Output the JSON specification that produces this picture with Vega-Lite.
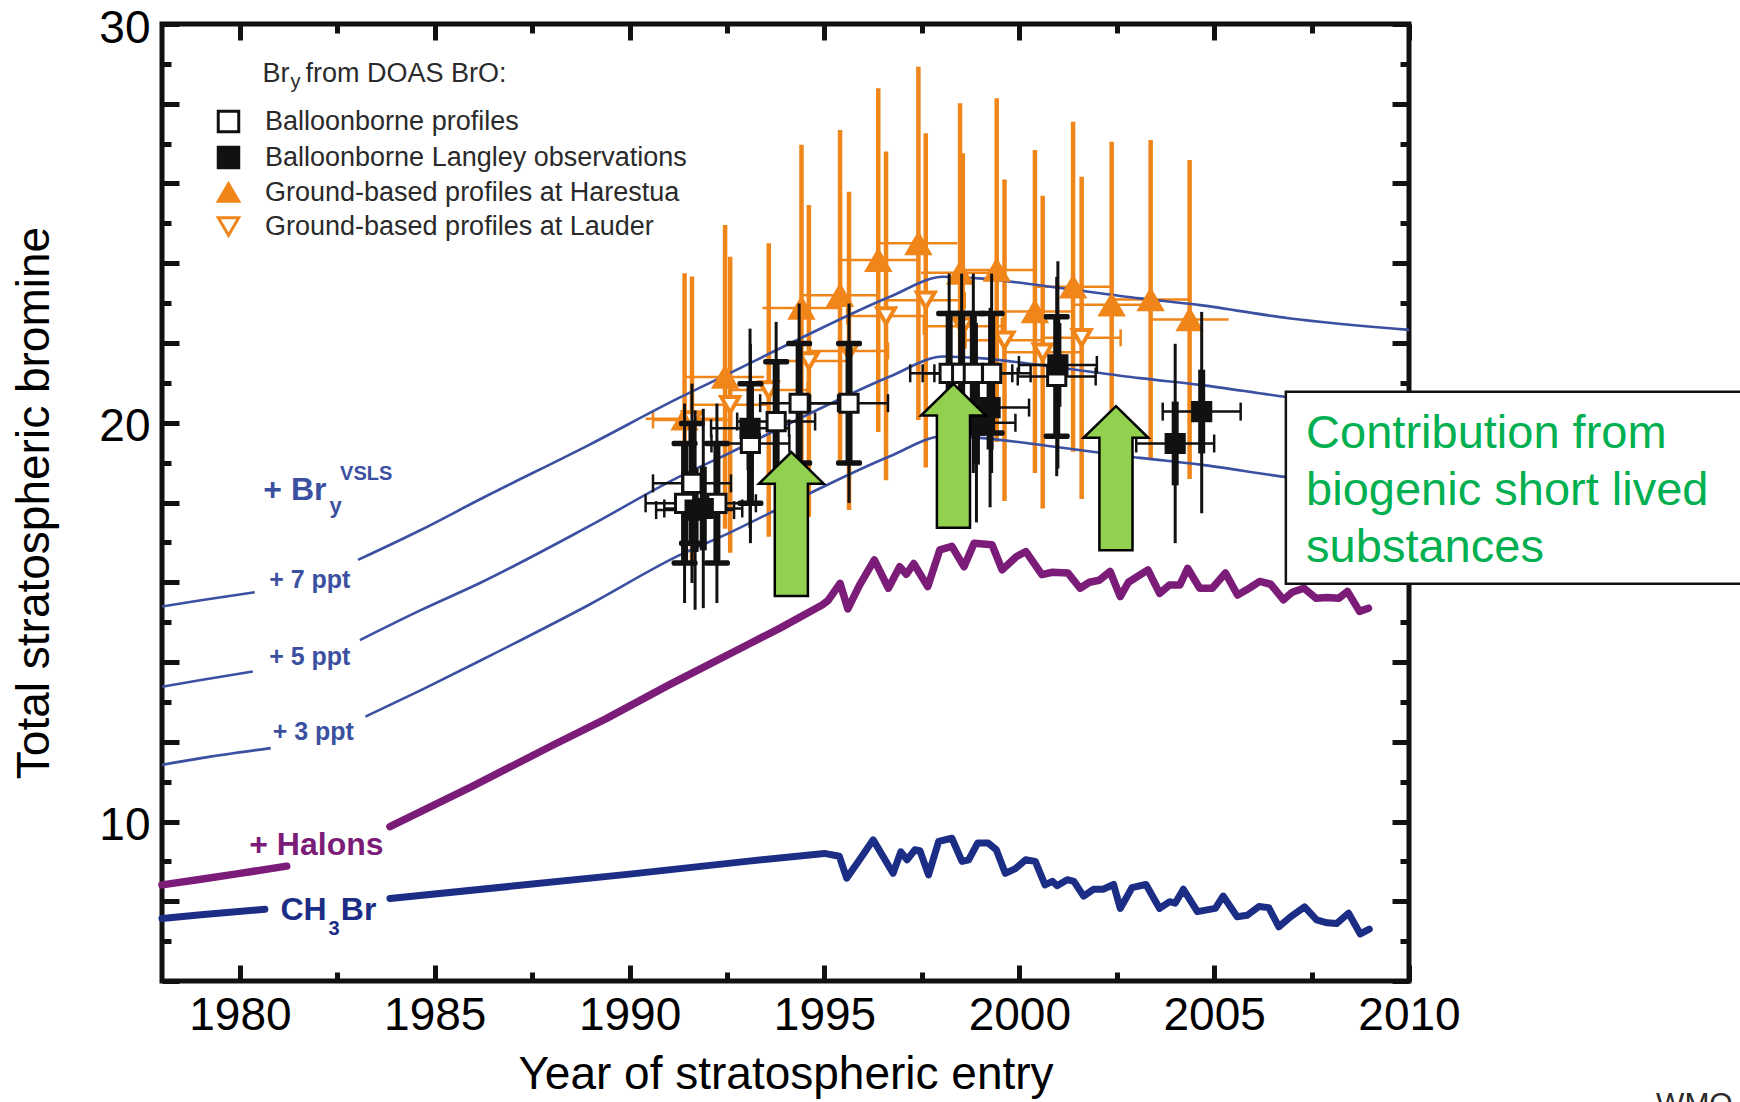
{
"$schema": "https://vega.github.io/schema/vega-lite/v6.json",
"width": 1247, "height": 957,
"autosize": {"type": "none"},
"padding": {"left": 162, "top": 24, "right": 331, "bottom": 121},
"background": "#ffffff",
"config": {
  "view": {"stroke": "#111111", "strokeWidth": 5},
  "axis": {"domain": false, "grid": false, "labelFont": "Liberation Sans", "titleFont": "Liberation Sans", "labelColor": "#000000", "titleColor": "#000000", "tickColor": "#111111", "tickWidth": 5, "titleFontWeight": "normal", "labelFontSize": 46, "titleFontSize": 46, "labelFlush": false, "labelOverlap": false},
  "legend": {"labelFont": "Liberation Sans", "labelFontSize": 27, "labelColor": "#2a2a2a", "symbolSize": 420, "symbolStrokeWidth": 3, "rowPadding": 3, "labelOffset": 23, "padding": 0, "labelLimit": 800}
},
"resolve": {"axis": {"x": "independent", "y": "independent"}},
"datasets": {
  "lines": [
    {"line": "+7", "seg": "a", "year": 1978, "value": 15.39},
    {"line": "+7", "seg": "a", "year": 1979, "value": 15.55},
    {"line": "+7", "seg": "a", "year": 1980.38, "value": 15.75},
    {"line": "+7", "seg": "b", "year": 1983.03, "value": 16.56},
    {"line": "+7", "seg": "b", "year": 1984.64, "value": 17.31},
    {"line": "+7", "seg": "b", "year": 1986.2, "value": 18.1},
    {"line": "+7", "seg": "b", "year": 1988.95, "value": 19.44},
    {"line": "+7", "seg": "b", "year": 1991.24, "value": 20.61},
    {"line": "+7", "seg": "b", "year": 1992.56, "value": 21.24},
    {"line": "+7", "seg": "b", "year": 1994.39, "value": 22.12},
    {"line": "+7", "seg": "b", "year": 1996.68, "value": 23.16},
    {"line": "+7", "seg": "b", "year": 1998.05, "value": 23.66},
    {"line": "+7", "seg": "b", "year": 1998.97, "value": 23.62},
    {"line": "+7", "seg": "b", "year": 2000.8, "value": 23.41},
    {"line": "+7", "seg": "b", "year": 2003.1, "value": 23.12},
    {"line": "+7", "seg": "b", "year": 2004.64, "value": 22.95},
    {"line": "+7", "seg": "b", "year": 2006.91, "value": 22.62},
    {"line": "+7", "seg": "b", "year": 2010, "value": 22.33},
    {"line": "+5", "seg": "a", "year": 1978, "value": 13.38},
    {"line": "+5", "seg": "a", "year": 1979, "value": 13.55},
    {"line": "+5", "seg": "a", "year": 1980.33, "value": 13.76},
    {"line": "+5", "seg": "b", "year": 1983.08, "value": 14.55},
    {"line": "+5", "seg": "b", "year": 1984.64, "value": 15.3},
    {"line": "+5", "seg": "b", "year": 1986.2, "value": 16.0},
    {"line": "+5", "seg": "b", "year": 1988.95, "value": 17.4},
    {"line": "+5", "seg": "b", "year": 1991.24, "value": 18.63},
    {"line": "+5", "seg": "b", "year": 1992.56, "value": 19.24},
    {"line": "+5", "seg": "b", "year": 1994.39, "value": 20.12},
    {"line": "+5", "seg": "b", "year": 1996.68, "value": 21.16},
    {"line": "+5", "seg": "b", "year": 1998.05, "value": 21.66},
    {"line": "+5", "seg": "b", "year": 1998.97, "value": 21.62},
    {"line": "+5", "seg": "b", "year": 2000.8, "value": 21.41},
    {"line": "+5", "seg": "b", "year": 2003.1, "value": 21.12},
    {"line": "+5", "seg": "b", "year": 2004.64, "value": 20.95},
    {"line": "+5", "seg": "b", "year": 2006.91, "value": 20.64},
    {"line": "+5", "seg": "b", "year": 2010, "value": 20.33},
    {"line": "+3", "seg": "a", "year": 1978, "value": 11.42},
    {"line": "+3", "seg": "a", "year": 1979, "value": 11.59},
    {"line": "+3", "seg": "a", "year": 1980.79, "value": 11.84},
    {"line": "+3", "seg": "b", "year": 1983.22, "value": 12.63},
    {"line": "+3", "seg": "b", "year": 1984.7, "value": 13.32},
    {"line": "+3", "seg": "b", "year": 1986.2, "value": 14.05},
    {"line": "+3", "seg": "b", "year": 1988.95, "value": 15.43},
    {"line": "+3", "seg": "b", "year": 1991.24, "value": 16.66},
    {"line": "+3", "seg": "b", "year": 1992.56, "value": 17.24},
    {"line": "+3", "seg": "b", "year": 1994.39, "value": 18.12},
    {"line": "+3", "seg": "b", "year": 1996.68, "value": 19.16},
    {"line": "+3", "seg": "b", "year": 1998.05, "value": 19.66},
    {"line": "+3", "seg": "b", "year": 1998.97, "value": 19.62},
    {"line": "+3", "seg": "b", "year": 2000.8, "value": 19.41},
    {"line": "+3", "seg": "b", "year": 2003.1, "value": 19.12},
    {"line": "+3", "seg": "b", "year": 2004.64, "value": 18.95},
    {"line": "+3", "seg": "b", "year": 2006.91, "value": 18.63},
    {"line": "+3", "seg": "b", "year": 2010, "value": 18.33},
    {"line": "Halons", "seg": "a", "year": 1978, "value": 8.41},
    {"line": "Halons", "seg": "a", "year": 1979, "value": 8.55},
    {"line": "Halons", "seg": "a", "year": 1980, "value": 8.7},
    {"line": "Halons", "seg": "a", "year": 1981.2, "value": 8.88},
    {"line": "Halons", "seg": "b", "year": 1983.85, "value": 9.87},
    {"line": "Halons", "seg": "b", "year": 1986, "value": 10.9},
    {"line": "Halons", "seg": "b", "year": 1988, "value": 11.9},
    {"line": "Halons", "seg": "b", "year": 1989.4, "value": 12.58},
    {"line": "Halons", "seg": "b", "year": 1991, "value": 13.42},
    {"line": "Halons", "seg": "b", "year": 1993, "value": 14.42},
    {"line": "Halons", "seg": "b", "year": 1993.86, "value": 14.85},
    {"line": "Halons", "seg": "b", "year": 1994.94, "value": 15.43},
    {"line": "Halons", "seg": "b", "year": 1995.1, "value": 15.55},
    {"line": "Halons", "seg": "b", "year": 1995.4, "value": 15.97},
    {"line": "Halons", "seg": "b", "year": 1995.6, "value": 15.33},
    {"line": "Halons", "seg": "b", "year": 1995.9, "value": 15.93},
    {"line": "Halons", "seg": "b", "year": 1996.28, "value": 16.56},
    {"line": "Halons", "seg": "b", "year": 1996.64, "value": 15.85},
    {"line": "Halons", "seg": "b", "year": 1996.93, "value": 16.39},
    {"line": "Halons", "seg": "b", "year": 1997.1, "value": 16.2},
    {"line": "Halons", "seg": "b", "year": 1997.29, "value": 16.47},
    {"line": "Halons", "seg": "b", "year": 1997.65, "value": 15.89},
    {"line": "Halons", "seg": "b", "year": 1997.96, "value": 16.81},
    {"line": "Halons", "seg": "b", "year": 1998.27, "value": 16.9},
    {"line": "Halons", "seg": "b", "year": 1998.58, "value": 16.39},
    {"line": "Halons", "seg": "b", "year": 1998.84, "value": 16.98},
    {"line": "Halons", "seg": "b", "year": 1999.3, "value": 16.94},
    {"line": "Halons", "seg": "b", "year": 1999.56, "value": 16.31},
    {"line": "Halons", "seg": "b", "year": 1999.92, "value": 16.64},
    {"line": "Halons", "seg": "b", "year": 2000.17, "value": 16.77},
    {"line": "Halons", "seg": "b", "year": 2000.58, "value": 16.19},
    {"line": "Halons", "seg": "b", "year": 2000.85, "value": 16.25},
    {"line": "Halons", "seg": "b", "year": 2001.25, "value": 16.23},
    {"line": "Halons", "seg": "b", "year": 2001.56, "value": 15.85},
    {"line": "Halons", "seg": "b", "year": 2001.8, "value": 16.0},
    {"line": "Halons", "seg": "b", "year": 2002.05, "value": 16.05},
    {"line": "Halons", "seg": "b", "year": 2002.33, "value": 16.27},
    {"line": "Halons", "seg": "b", "year": 2002.59, "value": 15.64},
    {"line": "Halons", "seg": "b", "year": 2002.8, "value": 16.0},
    {"line": "Halons", "seg": "b", "year": 2003.3, "value": 16.31},
    {"line": "Halons", "seg": "b", "year": 2003.6, "value": 15.72},
    {"line": "Halons", "seg": "b", "year": 2003.85, "value": 15.93},
    {"line": "Halons", "seg": "b", "year": 2004.12, "value": 15.93},
    {"line": "Halons", "seg": "b", "year": 2004.32, "value": 16.35},
    {"line": "Halons", "seg": "b", "year": 2004.63, "value": 15.85},
    {"line": "Halons", "seg": "b", "year": 2004.95, "value": 15.85},
    {"line": "Halons", "seg": "b", "year": 2005.29, "value": 16.23},
    {"line": "Halons", "seg": "b", "year": 2005.6, "value": 15.68},
    {"line": "Halons", "seg": "b", "year": 2005.9, "value": 15.85},
    {"line": "Halons", "seg": "b", "year": 2006.17, "value": 16.02},
    {"line": "Halons", "seg": "b", "year": 2006.45, "value": 15.95},
    {"line": "Halons", "seg": "b", "year": 2006.78, "value": 15.56},
    {"line": "Halons", "seg": "b", "year": 2007.0, "value": 15.75},
    {"line": "Halons", "seg": "b", "year": 2007.3, "value": 15.85},
    {"line": "Halons", "seg": "b", "year": 2007.61, "value": 15.6},
    {"line": "Halons", "seg": "b", "year": 2007.9, "value": 15.62},
    {"line": "Halons", "seg": "b", "year": 2008.2, "value": 15.6},
    {"line": "Halons", "seg": "b", "year": 2008.42, "value": 15.77},
    {"line": "Halons", "seg": "b", "year": 2008.73, "value": 15.27},
    {"line": "Halons", "seg": "b", "year": 2008.96, "value": 15.35},
    {"line": "CH3Br", "seg": "a", "year": 1978, "value": 7.57},
    {"line": "CH3Br", "seg": "a", "year": 1979, "value": 7.66},
    {"line": "CH3Br", "seg": "a", "year": 1980.64, "value": 7.8},
    {"line": "CH3Br", "seg": "b", "year": 1983.85, "value": 8.07},
    {"line": "CH3Br", "seg": "b", "year": 1987, "value": 8.38},
    {"line": "CH3Br", "seg": "b", "year": 1990, "value": 8.68},
    {"line": "CH3Br", "seg": "b", "year": 1993, "value": 9.0},
    {"line": "CH3Br", "seg": "b", "year": 1995.0, "value": 9.2},
    {"line": "CH3Br", "seg": "b", "year": 1995.38, "value": 9.13},
    {"line": "CH3Br", "seg": "b", "year": 1995.57, "value": 8.58},
    {"line": "CH3Br", "seg": "b", "year": 1995.9, "value": 9.04},
    {"line": "CH3Br", "seg": "b", "year": 1996.25, "value": 9.54},
    {"line": "CH3Br", "seg": "b", "year": 1996.76, "value": 8.7},
    {"line": "CH3Br", "seg": "b", "year": 1996.96, "value": 9.24},
    {"line": "CH3Br", "seg": "b", "year": 1997.12, "value": 9.04},
    {"line": "CH3Br", "seg": "b", "year": 1997.32, "value": 9.29},
    {"line": "CH3Br", "seg": "b", "year": 1997.45, "value": 9.27},
    {"line": "CH3Br", "seg": "b", "year": 1997.67, "value": 8.66},
    {"line": "CH3Br", "seg": "b", "year": 1997.93, "value": 9.5},
    {"line": "CH3Br", "seg": "b", "year": 1998.27, "value": 9.58},
    {"line": "CH3Br", "seg": "b", "year": 1998.53, "value": 9.0},
    {"line": "CH3Br", "seg": "b", "year": 1998.7, "value": 9.04},
    {"line": "CH3Br", "seg": "b", "year": 1998.93, "value": 9.46},
    {"line": "CH3Br", "seg": "b", "year": 1999.2, "value": 9.46},
    {"line": "CH3Br", "seg": "b", "year": 1999.41, "value": 9.29},
    {"line": "CH3Br", "seg": "b", "year": 1999.64, "value": 8.7},
    {"line": "CH3Br", "seg": "b", "year": 1999.9, "value": 8.82},
    {"line": "CH3Br", "seg": "b", "year": 2000.16, "value": 9.04},
    {"line": "CH3Br", "seg": "b", "year": 2000.41, "value": 9.0},
    {"line": "CH3Br", "seg": "b", "year": 2000.66, "value": 8.41},
    {"line": "CH3Br", "seg": "b", "year": 2000.85, "value": 8.5},
    {"line": "CH3Br", "seg": "b", "year": 2000.97, "value": 8.39},
    {"line": "CH3Br", "seg": "b", "year": 2001.23, "value": 8.54},
    {"line": "CH3Br", "seg": "b", "year": 2001.4, "value": 8.5},
    {"line": "CH3Br", "seg": "b", "year": 2001.65, "value": 8.13},
    {"line": "CH3Br", "seg": "b", "year": 2001.9, "value": 8.3},
    {"line": "CH3Br", "seg": "b", "year": 2002.15, "value": 8.3},
    {"line": "CH3Br", "seg": "b", "year": 2002.42, "value": 8.42},
    {"line": "CH3Br", "seg": "b", "year": 2002.59, "value": 7.82},
    {"line": "CH3Br", "seg": "b", "year": 2002.89, "value": 8.34},
    {"line": "CH3Br", "seg": "b", "year": 2003.25, "value": 8.42},
    {"line": "CH3Br", "seg": "b", "year": 2003.6, "value": 7.82},
    {"line": "CH3Br", "seg": "b", "year": 2003.86, "value": 7.99},
    {"line": "CH3Br", "seg": "b", "year": 2004.0, "value": 7.95},
    {"line": "CH3Br", "seg": "b", "year": 2004.21, "value": 8.3},
    {"line": "CH3Br", "seg": "b", "year": 2004.57, "value": 7.74},
    {"line": "CH3Br", "seg": "b", "year": 2005.03, "value": 7.82},
    {"line": "CH3Br", "seg": "b", "year": 2005.23, "value": 8.13},
    {"line": "CH3Br", "seg": "b", "year": 2005.59, "value": 7.61},
    {"line": "CH3Br", "seg": "b", "year": 2005.85, "value": 7.65},
    {"line": "CH3Br", "seg": "b", "year": 2006.15, "value": 7.87},
    {"line": "CH3Br", "seg": "b", "year": 2006.4, "value": 7.84},
    {"line": "CH3Br", "seg": "b", "year": 2006.66, "value": 7.36},
    {"line": "CH3Br", "seg": "b", "year": 2006.96, "value": 7.61},
    {"line": "CH3Br", "seg": "b", "year": 2007.32, "value": 7.86},
    {"line": "CH3Br", "seg": "b", "year": 2007.63, "value": 7.53},
    {"line": "CH3Br", "seg": "b", "year": 2007.9, "value": 7.46},
    {"line": "CH3Br", "seg": "b", "year": 2008.14, "value": 7.44},
    {"line": "CH3Br", "seg": "b", "year": 2008.45, "value": 7.7},
    {"line": "CH3Br", "seg": "b", "year": 2008.75, "value": 7.18},
    {"line": "CH3Br", "seg": "b", "year": 2008.98, "value": 7.3}
  ],
  "obs": [
    {"series": "Ground-based profiles at Harestua", "year": 1991.41, "value": 20.10, "lo1": 16.45, "hi1": 23.75, "xlo": 1990.41, "xhi": 1992.41},
    {"series": "Ground-based profiles at Harestua", "year": 1992.45, "value": 21.15, "lo1": 17.34, "hi1": 24.96, "xlo": 1991.45, "xhi": 1993.45},
    {"series": "Ground-based profiles at Harestua", "year": 1994.41, "value": 22.88, "lo1": 18.79, "hi1": 26.97, "xlo": 1993.41, "xhi": 1995.41},
    {"series": "Ground-based profiles at Harestua", "year": 1995.40, "value": 23.20, "lo1": 19.06, "hi1": 27.34, "xlo": 1994.40, "xhi": 1996.40},
    {"series": "Ground-based profiles at Harestua", "year": 1996.38, "value": 24.08, "lo1": 19.77, "hi1": 28.39, "xlo": 1995.38, "xhi": 1997.38},
    {"series": "Ground-based profiles at Harestua", "year": 1997.41, "value": 24.50, "lo1": 20.07, "hi1": 28.93, "xlo": 1996.41, "xhi": 1998.41},
    {"series": "Ground-based profiles at Harestua", "year": 1998.48, "value": 23.76, "lo1": 19.51, "hi1": 28.01, "xlo": 1997.48, "xhi": 1999.48},
    {"series": "Ground-based profiles at Harestua", "year": 1999.42, "value": 23.83, "lo1": 19.52, "hi1": 28.14, "xlo": 1998.42, "xhi": 2000.42},
    {"series": "Ground-based profiles at Harestua", "year": 2000.40, "value": 22.79, "lo1": 18.74, "hi1": 26.84, "xlo": 1999.40, "xhi": 2001.40},
    {"series": "Ground-based profiles at Harestua", "year": 2001.38, "value": 23.41, "lo1": 19.27, "hi1": 27.55, "xlo": 2000.38, "xhi": 2002.38},
    {"series": "Ground-based profiles at Harestua", "year": 2002.37, "value": 22.96, "lo1": 18.87, "hi1": 27.05, "xlo": 2001.37, "xhi": 2003.37},
    {"series": "Ground-based profiles at Harestua", "year": 2003.37, "value": 23.09, "lo1": 19.09, "hi1": 27.09, "xlo": 2002.37, "xhi": 2004.37},
    {"series": "Ground-based profiles at Harestua", "year": 2004.37, "value": 22.59, "lo1": 18.59, "hi1": 26.59, "xlo": 2003.37, "xhi": 2005.37},
    {"series": "Ground-based profiles at Lauder", "year": 1991.60, "value": 20.07, "lo1": 16.47, "hi1": 23.67, "xlo": 1990.60, "xhi": 1992.60},
    {"series": "Ground-based profiles at Lauder", "year": 1992.58, "value": 20.45, "lo1": 16.74, "hi1": 24.16, "xlo": 1991.58, "xhi": 1993.58},
    {"series": "Ground-based profiles at Lauder", "year": 1993.57, "value": 20.82, "lo1": 17.14, "hi1": 24.50, "xlo": 1992.57, "xhi": 1994.57},
    {"series": "Ground-based profiles at Lauder", "year": 1994.60, "value": 21.55, "lo1": 17.64, "hi1": 25.46, "xlo": 1993.60, "xhi": 1995.60},
    {"series": "Ground-based profiles at Lauder", "year": 1995.63, "value": 21.80, "lo1": 17.81, "hi1": 25.79, "xlo": 1994.63, "xhi": 1996.63},
    {"series": "Ground-based profiles at Lauder", "year": 1996.58, "value": 22.68, "lo1": 18.56, "hi1": 26.80, "xlo": 1995.58, "xhi": 1997.58},
    {"series": "Ground-based profiles at Lauder", "year": 1997.60, "value": 23.07, "lo1": 18.88, "hi1": 27.26, "xlo": 1996.60, "xhi": 1998.60},
    {"series": "Ground-based profiles at Lauder", "year": 1998.55, "value": 22.42, "lo1": 18.08, "hi1": 26.76, "xlo": 1997.55, "xhi": 1999.55},
    {"series": "Ground-based profiles at Lauder", "year": 1999.62, "value": 22.07, "lo1": 18.04, "hi1": 26.10, "xlo": 1998.62, "xhi": 2000.62},
    {"series": "Ground-based profiles at Lauder", "year": 2000.60, "value": 21.77, "lo1": 17.85, "hi1": 25.69, "xlo": 1999.60, "xhi": 2001.60},
    {"series": "Ground-based profiles at Lauder", "year": 2001.60, "value": 22.13, "lo1": 18.09, "hi1": 26.17, "xlo": 2000.60, "xhi": 2002.60},
    {"series": "Balloonborne profiles", "year": 1991.41, "value": 17.98, "lo1": 16.48, "hi1": 19.48, "lo2": 15.48, "hi2": 20.48, "xlo": 1990.41, "xhi": 1992.41},
    {"series": "Balloonborne profiles", "year": 1991.60, "value": 18.48, "lo1": 16.98, "hi1": 19.98, "lo2": 15.98, "hi2": 20.98, "xlo": 1990.60, "xhi": 1992.60},
    {"series": "Balloonborne profiles", "year": 1992.24, "value": 17.98, "lo1": 16.48, "hi1": 19.48, "lo2": 15.48, "hi2": 20.48, "xlo": 1991.24, "xhi": 1993.24},
    {"series": "Balloonborne profiles", "year": 1993.10, "value": 19.48, "lo1": 17.98, "hi1": 20.98, "lo2": 16.98, "hi2": 21.98, "xlo": 1992.10, "xhi": 1994.10},
    {"series": "Balloonborne profiles", "year": 1993.76, "value": 20.03, "lo1": 18.53, "hi1": 21.53, "lo2": 17.53, "hi2": 22.53, "xlo": 1992.76, "xhi": 1994.76},
    {"series": "Balloonborne profiles", "year": 1994.35, "value": 20.49, "lo1": 18.99, "hi1": 21.99, "lo2": 17.99, "hi2": 22.99, "xlo": 1993.35, "xhi": 1995.35},
    {"series": "Balloonborne profiles", "year": 1995.63, "value": 20.49, "lo1": 18.99, "hi1": 21.99, "lo2": 17.99, "hi2": 22.99, "xlo": 1994.63, "xhi": 1996.63},
    {"series": "Balloonborne profiles", "year": 1998.20, "value": 21.24, "lo1": 19.74, "hi1": 22.74, "lo2": 18.74, "hi2": 23.74, "xlo": 1997.20, "xhi": 1999.20},
    {"series": "Balloonborne profiles", "year": 1998.52, "value": 21.24, "lo1": 19.74, "hi1": 22.74, "lo2": 18.74, "hi2": 23.74, "xlo": 1997.52, "xhi": 1999.52},
    {"series": "Balloonborne profiles", "year": 1998.82, "value": 21.24, "lo1": 19.74, "hi1": 22.74, "lo2": 18.74, "hi2": 23.74, "xlo": 1997.82, "xhi": 1999.82},
    {"series": "Balloonborne profiles", "year": 1999.29, "value": 21.24, "lo1": 19.74, "hi1": 22.74, "lo2": 18.74, "hi2": 23.74, "xlo": 1998.29, "xhi": 2000.29},
    {"series": "Balloonborne profiles", "year": 2000.96, "value": 21.16, "lo1": 19.66, "hi1": 22.66, "lo2": 18.66, "hi2": 23.66, "xlo": 1999.96, "xhi": 2001.96},
    {"series": "Balloonborne Langley observations", "year": 1991.68, "value": 17.81, "lo1": 16.76, "hi1": 18.86, "lo2": 15.31, "hi2": 20.31, "xlo": 1990.68, "xhi": 1992.68},
    {"series": "Balloonborne Langley observations", "year": 1991.89, "value": 17.85, "lo1": 16.80, "hi1": 18.90, "lo2": 15.35, "hi2": 20.35, "xlo": 1990.89, "xhi": 1992.89},
    {"series": "Balloonborne Langley observations", "year": 1993.09, "value": 19.86, "lo1": 18.81, "hi1": 20.91, "lo2": 17.36, "hi2": 22.36, "xlo": 1992.09, "xhi": 1994.09},
    {"series": "Balloonborne Langley observations", "year": 1998.90, "value": 20.00, "lo1": 18.95, "hi1": 21.05, "lo2": 17.50, "hi2": 22.50, "xlo": 1997.90, "xhi": 1999.90},
    {"series": "Balloonborne Langley observations", "year": 1999.25, "value": 20.38, "lo1": 19.33, "hi1": 21.43, "lo2": 17.88, "hi2": 22.88, "xlo": 1998.25, "xhi": 2000.25},
    {"series": "Balloonborne Langley observations", "year": 2000.99, "value": 21.45, "lo1": 20.40, "hi1": 22.50, "lo2": 18.85, "hi2": 24.05, "xlo": 1999.99, "xhi": 2001.99},
    {"series": "Balloonborne Langley observations", "year": 2004.00, "value": 19.48, "lo1": 18.43, "hi1": 20.53, "lo2": 16.98, "hi2": 21.98, "xlo": 2003.00, "xhi": 2005.00},
    {"series": "Balloonborne Langley observations", "year": 2004.68, "value": 20.28, "lo1": 19.23, "hi1": 21.33, "lo2": 17.73, "hi2": 22.78, "xlo": 2003.68, "xhi": 2005.68}
  ],
  "arrows": [
    {"year": 1994.15, "value": 17.46},
    {"year": 1998.31, "value": 19.17},
    {"year": 2002.48, "value": 18.61}
  ]
},
"layer": [
  {
    "data": {"name": "obs"},
    "transform": [{"filter": {"field": "series", "oneOf": ["Ground-based profiles at Harestua", "Ground-based profiles at Lauder"]}}],
    "mark": {"type": "rule", "color": "#f0851a", "strokeWidth": 4.5},
    "encoding": {
      "x": {"field": "year", "type": "quantitative", "scale": {"domain": [1978, 2010], "nice": false, "zero": false},
            "axis": {"orient": "bottom", "values": [1980, 1985, 1990, 1995, 2000, 2005, 2010], "format": "d", "ticks": false, "labelPadding": 12, "title": "Year of stratospheric entry", "titlePadding": 14}},
      "y": {"field": "lo1", "type": "quantitative", "scale": {"domain": [6, 30], "nice": false, "zero": false},
            "axis": {"orient": "left", "values": [10, 20, 30], "format": "d", "ticks": false, "labelPadding": 12, "labelOffset": 4, "title": "Total stratospheric bromine", "titlePadding": 40}},
      "y2": {"field": "hi1"}
    }
  },
  {
    "data": {"name": "obs"},
    "transform": [{"filter": {"field": "series", "oneOf": ["Ground-based profiles at Harestua", "Ground-based profiles at Lauder"]}}],
    "mark": {"type": "rule", "color": "#f0851a", "strokeWidth": 2.5},
    "encoding": {
      "x": {"field": "xlo", "type": "quantitative", "scale": {"domain": [1978, 2010], "nice": false, "zero": false},
            "axis": {"orient": "bottom", "values": [1980, 1985, 1990, 1995, 2000, 2005, 2010], "labels": false, "tickSize": -16, "title": null}},
      "x2": {"field": "xhi"},
      "y": {"field": "value", "type": "quantitative", "scale": {"domain": [6, 30], "nice": false, "zero": false},
            "axis": {"orient": "left", "values": [6, 8, 10, 12, 14, 16, 18, 20, 22, 24, 26, 28, 30], "labels": false, "tickSize": -17, "title": null}}
    }
  },
  {
    "data": {"name": "obs"},
    "transform": [{"filter": {"field": "series", "equal": "Ground-based profiles at Lauder"}}, {"fold": ["xlo", "xhi"], "as": ["k", "xe"]}],
    "mark": {"type": "tick", "orient": "vertical", "size": 17, "thickness": 2.5, "color": "#f0851a", "opacity": 1},
    "encoding": {
      "x": {"field": "xe", "type": "quantitative", "scale": {"domain": [1978, 2010], "nice": false, "zero": false},
            "axis": {"orient": "bottom", "values": [1982.5, 1987.5, 1992.5, 1997.5, 2002.5, 2007.5], "labels": false, "tickSize": -9, "title": null}},
      "y": {"field": "value", "type": "quantitative", "scale": {"domain": [6, 30], "nice": false, "zero": false},
            "axis": {"orient": "left", "values": [7, 9, 11, 13, 15, 17, 19, 21, 23, 25, 27, 29], "labels": false, "tickSize": -9, "title": null}}
    }
  },
  {
    "data": {"name": "lines"},
    "transform": [{"filter": {"field": "line", "oneOf": ["+7", "+5", "+3"]}}],
    "mark": {"type": "line", "color": "#3b50a0", "strokeWidth": 2.6, "interpolate": "monotone"},
    "encoding": {
      "x": {"field": "year", "type": "quantitative", "scale": {"domain": [1978, 2010], "nice": false, "zero": false},
            "axis": {"orient": "top", "values": [1980, 1985, 1990, 1995, 2000, 2005, 2010], "labels": false, "tickSize": -16, "title": null}},
      "y": {"field": "value", "type": "quantitative", "scale": {"domain": [6, 30], "nice": false, "zero": false},
            "axis": {"orient": "right", "values": [6, 8, 10, 12, 14, 16, 18, 20, 22, 24, 26, 28, 30], "labels": false, "tickSize": -17, "title": null}},
      "detail": [{"field": "line"}, {"field": "seg"}]
    }
  },
  {
    "data": {"name": "lines"},
    "transform": [{"filter": {"field": "line", "equal": "Halons"}}],
    "mark": {"type": "line", "color": "#7b1c78", "strokeWidth": 7.5, "strokeJoin": "round", "strokeCap": "round"},
    "encoding": {
      "x": {"field": "year", "type": "quantitative", "scale": {"domain": [1978, 2010], "nice": false, "zero": false},
            "axis": {"orient": "top", "values": [1982.5, 1987.5, 1992.5, 1997.5, 2002.5, 2007.5], "labels": false, "tickSize": -9, "title": null}},
      "y": {"field": "value", "type": "quantitative", "scale": {"domain": [6, 30], "nice": false, "zero": false},
            "axis": {"orient": "right", "values": [7, 9, 11, 13, 15, 17, 19, 21, 23, 25, 27, 29], "labels": false, "tickSize": -9, "title": null}},
      "detail": {"field": "seg"}
    }
  },
  {
    "data": {"name": "lines"},
    "transform": [{"filter": {"field": "line", "equal": "CH3Br"}}],
    "mark": {"type": "line", "color": "#1b2d85", "strokeWidth": 7, "strokeJoin": "round", "strokeCap": "round"},
    "encoding": {
      "x": {"field": "year", "type": "quantitative", "scale": {"domain": [1978, 2010], "nice": false, "zero": false}, "axis": null},
      "y": {"field": "value", "type": "quantitative", "scale": {"domain": [6, 30], "nice": false, "zero": false}, "axis": null},
      "detail": {"field": "seg"}
    }
  },
  {
    "data": {"name": "obs"},
    "transform": [{"filter": {"field": "series", "equal": "Ground-based profiles at Harestua"}}],
    "mark": {"type": "point", "size": 625, "strokeWidth": 2, "opacity": 1},
    "encoding": {
      "x": {"field": "year", "type": "quantitative", "scale": {"domain": [1978, 2010], "nice": false, "zero": false}, "axis": null},
      "y": {"field": "value", "type": "quantitative", "scale": {"domain": [6, 30], "nice": false, "zero": false}, "axis": null},
      "shape": {"field": "series", "type": "nominal",
                "scale": {"domain": ["Balloonborne profiles", "Balloonborne Langley observations", "Ground-based profiles at Harestua", "Ground-based profiles at Lauder"], "range": ["square", "square", "triangle-up", "triangle-down"]},
                "legend": {"title": null, "orient": "none", "legendX": 53, "legendY": 84}},
      "fill": {"field": "series", "type": "nominal",
               "scale": {"domain": ["Balloonborne profiles", "Balloonborne Langley observations", "Ground-based profiles at Harestua", "Ground-based profiles at Lauder"], "range": ["#ffffff", "#111111", "#f0851a", "#ffffff"]},
               "legend": {"title": null, "orient": "none", "legendX": 53, "legendY": 84}},
      "stroke": {"field": "series", "type": "nominal",
                 "scale": {"domain": ["Balloonborne profiles", "Balloonborne Langley observations", "Ground-based profiles at Harestua", "Ground-based profiles at Lauder"], "range": ["#111111", "#111111", "#f0851a", "#f0851a"]},
                 "legend": {"title": null, "orient": "none", "legendX": 53, "legendY": 84}}
    }
  },
  {
    "data": {"name": "obs"},
    "transform": [{"filter": {"field": "series", "equal": "Ground-based profiles at Lauder"}}],
    "mark": {"type": "point", "size": 320, "strokeWidth": 4, "opacity": 1},
    "encoding": {
      "x": {"field": "year", "type": "quantitative", "scale": {"domain": [1978, 2010], "nice": false, "zero": false}, "axis": null},
      "y": {"field": "value", "type": "quantitative", "scale": {"domain": [6, 30], "nice": false, "zero": false}, "axis": null},
      "shape": {"field": "series", "type": "nominal",
                "scale": {"domain": ["Balloonborne profiles", "Balloonborne Langley observations", "Ground-based profiles at Harestua", "Ground-based profiles at Lauder"], "range": ["square", "square", "triangle-up", "triangle-down"]},
                "legend": {"title": null, "orient": "none", "legendX": 53, "legendY": 84}},
      "fill": {"field": "series", "type": "nominal",
               "scale": {"domain": ["Balloonborne profiles", "Balloonborne Langley observations", "Ground-based profiles at Harestua", "Ground-based profiles at Lauder"], "range": ["#ffffff", "#111111", "#f0851a", "#ffffff"]},
               "legend": {"title": null, "orient": "none", "legendX": 53, "legendY": 84}},
      "stroke": {"field": "series", "type": "nominal",
                 "scale": {"domain": ["Balloonborne profiles", "Balloonborne Langley observations", "Ground-based profiles at Harestua", "Ground-based profiles at Lauder"], "range": ["#111111", "#111111", "#f0851a", "#f0851a"]},
                 "legend": {"title": null, "orient": "none", "legendX": 53, "legendY": 84}}
    }
  },
  {
    "data": {"name": "obs"},
    "transform": [{"filter": {"field": "series", "oneOf": ["Balloonborne profiles", "Balloonborne Langley observations"]}}],
    "mark": {"type": "rule", "color": "#111111", "strokeWidth": 3},
    "encoding": {
      "x": {"field": "year", "type": "quantitative", "scale": {"domain": [1978, 2010], "nice": false, "zero": false}, "axis": null},
      "y": {"field": "lo2", "type": "quantitative", "scale": {"domain": [6, 30], "nice": false, "zero": false}, "axis": null},
      "y2": {"field": "hi2"}
    }
  },
  {
    "data": {"name": "obs"},
    "transform": [{"filter": {"field": "series", "oneOf": ["Balloonborne profiles", "Balloonborne Langley observations"]}}],
    "mark": {"type": "rule", "color": "#111111", "strokeWidth": 7},
    "encoding": {
      "x": {"field": "year", "type": "quantitative", "scale": {"domain": [1978, 2010], "nice": false, "zero": false}, "axis": null},
      "y": {"field": "lo1", "type": "quantitative", "scale": {"domain": [6, 30], "nice": false, "zero": false}, "axis": null},
      "y2": {"field": "hi1"}
    }
  },
  {
    "data": {"name": "obs"},
    "transform": [{"filter": {"field": "series", "oneOf": ["Balloonborne profiles", "Balloonborne Langley observations"]}}],
    "mark": {"type": "rule", "color": "#111111", "strokeWidth": 2.5},
    "encoding": {
      "x": {"field": "xlo", "type": "quantitative", "scale": {"domain": [1978, 2010], "nice": false, "zero": false}, "axis": null},
      "x2": {"field": "xhi"},
      "y": {"field": "value", "type": "quantitative", "scale": {"domain": [6, 30], "nice": false, "zero": false}, "axis": null}
    }
  },
  {
    "data": {"name": "obs"},
    "transform": [{"filter": {"field": "series", "oneOf": ["Balloonborne profiles", "Balloonborne Langley observations"]}}, {"fold": ["xlo", "xhi"], "as": ["k", "xe"]}],
    "mark": {"type": "tick", "orient": "vertical", "size": 18, "thickness": 2.5, "color": "#111111", "opacity": 1},
    "encoding": {
      "x": {"field": "xe", "type": "quantitative", "scale": {"domain": [1978, 2010], "nice": false, "zero": false}, "axis": null},
      "y": {"field": "value", "type": "quantitative", "scale": {"domain": [6, 30], "nice": false, "zero": false}, "axis": null}
    }
  },
  {
    "data": {"name": "obs"},
    "transform": [{"filter": {"field": "series", "equal": "Balloonborne profiles"}}, {"fold": ["lo1", "hi1"], "as": ["k", "ye"]}],
    "mark": {"type": "tick", "orient": "horizontal", "size": 26, "thickness": 5.5, "color": "#111111", "opacity": 1, "cornerRadius": 2},
    "encoding": {
      "x": {"field": "year", "type": "quantitative", "scale": {"domain": [1978, 2010], "nice": false, "zero": false}, "axis": null},
      "y": {"field": "ye", "type": "quantitative", "scale": {"domain": [6, 30], "nice": false, "zero": false}, "axis": null}
    }
  },
  {
    "data": {"name": "obs"},
    "transform": [{"filter": {"field": "series", "oneOf": ["Balloonborne profiles", "Balloonborne Langley observations"]}}],
    "mark": {"type": "point", "size": 330, "strokeWidth": 3, "opacity": 1},
    "encoding": {
      "x": {"field": "year", "type": "quantitative", "scale": {"domain": [1978, 2010], "nice": false, "zero": false}, "axis": null},
      "y": {"field": "value", "type": "quantitative", "scale": {"domain": [6, 30], "nice": false, "zero": false}, "axis": null},
      "shape": {"field": "series", "type": "nominal",
                "scale": {"domain": ["Balloonborne profiles", "Balloonborne Langley observations", "Ground-based profiles at Harestua", "Ground-based profiles at Lauder"], "range": ["square", "square", "triangle-up", "triangle-down"]},
                "legend": {"title": null, "orient": "none", "legendX": 53, "legendY": 84}},
      "fill": {"field": "series", "type": "nominal",
               "scale": {"domain": ["Balloonborne profiles", "Balloonborne Langley observations", "Ground-based profiles at Harestua", "Ground-based profiles at Lauder"], "range": ["#ffffff", "#111111", "#f0851a", "#ffffff"]},
               "legend": {"title": null, "orient": "none", "legendX": 53, "legendY": 84}},
      "stroke": {"field": "series", "type": "nominal",
                 "scale": {"domain": ["Balloonborne profiles", "Balloonborne Langley observations", "Ground-based profiles at Harestua", "Ground-based profiles at Lauder"], "range": ["#111111", "#111111", "#f0851a", "#f0851a"]},
                 "legend": {"title": null, "orient": "none", "legendX": 53, "legendY": 84}}
    }
  },
  {
    "data": {"name": "arrows"},
    "mark": {"type": "point", "shape": "M0,-1L0.45,-0.56L0.23,-0.56L0.23,1L-0.23,1L-0.23,-0.56L-0.45,-0.56Z", "size": 20736, "filled": true, "fill": "#92d050", "stroke": "#000000", "strokeWidth": 2.5, "opacity": 1, "strokeJoin": "miter"},
    "encoding": {
      "x": {"field": "year", "type": "quantitative", "scale": {"domain": [1978, 2010], "nice": false, "zero": false}, "axis": null},
      "y": {"field": "value", "type": "quantitative", "scale": {"domain": [6, 30], "nice": false, "zero": false}, "axis": null}
    }
  },
  {
    "data": {"values": [{}]},
    "mark": {"type": "rect", "fill": "#ffffff", "stroke": "#111111", "strokeWidth": 2.5, "opacity": 1},
    "encoding": {
      "x": {"datum": 2006.84, "type": "quantitative", "scale": {"domain": [1978, 2010], "nice": false, "zero": false}, "axis": null},
      "x2": {"datum": 2019.5},
      "y": {"datum": 20.78, "type": "quantitative", "scale": {"domain": [6, 30], "nice": false, "zero": false}, "axis": null},
      "y2": {"datum": 15.96}
    }
  },
  {
    "data": {"values": [{}]},
    "mark": {"type": "text", "text": ["Contribution from", "biogenic short lived", "substances"], "lineHeight": 57, "font": "Liberation Sans", "fontSize": 47, "color": "#00b050", "align": "left", "baseline": "alphabetic"},
    "encoding": {
      "x": {"datum": 2007.36, "type": "quantitative", "scale": {"domain": [1978, 2010], "nice": false, "zero": false}, "axis": null},
      "y": {"datum": 19.37, "type": "quantitative", "scale": {"domain": [6, 30], "nice": false, "zero": false}, "axis": null}
    }
  },
  {
    "data": {"values": [{}]},
    "mark": {"type": "text", "text": "+ 7 ppt", "font": "Liberation Sans", "fontSize": 25, "fontWeight": "bold", "color": "#3b50a0", "align": "left", "baseline": "alphabetic"},
    "encoding": {
      "x": {"datum": 1980.75, "type": "quantitative", "scale": {"domain": [1978, 2010], "nice": false, "zero": false}, "axis": null},
      "y": {"datum": 15.86, "type": "quantitative", "scale": {"domain": [6, 30], "nice": false, "zero": false}, "axis": null}
    }
  },
  {
    "data": {"values": [{}]},
    "mark": {"type": "text", "text": "+ 5 ppt", "font": "Liberation Sans", "fontSize": 25, "fontWeight": "bold", "color": "#3b50a0", "align": "left", "baseline": "alphabetic"},
    "encoding": {
      "x": {"datum": 1980.75, "type": "quantitative", "scale": {"domain": [1978, 2010], "nice": false, "zero": false}, "axis": null},
      "y": {"datum": 13.92, "type": "quantitative", "scale": {"domain": [6, 30], "nice": false, "zero": false}, "axis": null}
    }
  },
  {
    "data": {"values": [{}]},
    "mark": {"type": "text", "text": "+ 3 ppt", "font": "Liberation Sans", "fontSize": 25, "fontWeight": "bold", "color": "#3b50a0", "align": "left", "baseline": "alphabetic"},
    "encoding": {
      "x": {"datum": 1980.84, "type": "quantitative", "scale": {"domain": [1978, 2010], "nice": false, "zero": false}, "axis": null},
      "y": {"datum": 12.04, "type": "quantitative", "scale": {"domain": [6, 30], "nice": false, "zero": false}, "axis": null}
    }
  },
  {
    "data": {"values": [{}]},
    "mark": {"type": "text", "text": "+ Br", "font": "Liberation Sans", "fontSize": 32, "fontWeight": "bold", "color": "#3b50a0", "align": "left", "baseline": "alphabetic"},
    "encoding": {
      "x": {"datum": 1980.6, "type": "quantitative", "scale": {"domain": [1978, 2010], "nice": false, "zero": false}, "axis": null},
      "y": {"datum": 18.06, "type": "quantitative", "scale": {"domain": [6, 30], "nice": false, "zero": false}, "axis": null}
    }
  },
  {
    "data": {"values": [{}]},
    "mark": {"type": "text", "text": "y", "font": "Liberation Sans", "fontSize": 22, "fontWeight": "bold", "color": "#3b50a0", "align": "left", "baseline": "alphabetic"},
    "encoding": {
      "x": {"datum": 1982.3, "type": "quantitative", "scale": {"domain": [1978, 2010], "nice": false, "zero": false}, "axis": null},
      "y": {"datum": 17.74, "type": "quantitative", "scale": {"domain": [6, 30], "nice": false, "zero": false}, "axis": null}
    }
  },
  {
    "data": {"values": [{}]},
    "mark": {"type": "text", "text": "VSLS", "font": "Liberation Sans", "fontSize": 20, "fontWeight": "bold", "color": "#3b50a0", "align": "left", "baseline": "alphabetic"},
    "encoding": {
      "x": {"datum": 1982.57, "type": "quantitative", "scale": {"domain": [1978, 2010], "nice": false, "zero": false}, "axis": null},
      "y": {"datum": 18.56, "type": "quantitative", "scale": {"domain": [6, 30], "nice": false, "zero": false}, "axis": null}
    }
  },
  {
    "data": {"values": [{}]},
    "mark": {"type": "text", "text": "+ Halons", "font": "Liberation Sans", "fontSize": 32, "fontWeight": "bold", "color": "#7b1c78", "align": "left", "baseline": "alphabetic"},
    "encoding": {
      "x": {"datum": 1980.24, "type": "quantitative", "scale": {"domain": [1978, 2010], "nice": false, "zero": false}, "axis": null},
      "y": {"datum": 9.16, "type": "quantitative", "scale": {"domain": [6, 30], "nice": false, "zero": false}, "axis": null}
    }
  },
  {
    "data": {"values": [{}]},
    "mark": {"type": "text", "text": "CH", "font": "Liberation Sans", "fontSize": 32, "fontWeight": "bold", "color": "#1b2d85", "align": "left", "baseline": "alphabetic"},
    "encoding": {
      "x": {"datum": 1981.04, "type": "quantitative", "scale": {"domain": [1978, 2010], "nice": false, "zero": false}, "axis": null},
      "y": {"datum": 7.53, "type": "quantitative", "scale": {"domain": [6, 30], "nice": false, "zero": false}, "axis": null}
    }
  },
  {
    "data": {"values": [{}]},
    "mark": {"type": "text", "text": "3", "font": "Liberation Sans", "fontSize": 20, "fontWeight": "bold", "color": "#1b2d85", "align": "left", "baseline": "alphabetic"},
    "encoding": {
      "x": {"datum": 1982.27, "type": "quantitative", "scale": {"domain": [1978, 2010], "nice": false, "zero": false}, "axis": null},
      "y": {"datum": 7.15, "type": "quantitative", "scale": {"domain": [6, 30], "nice": false, "zero": false}, "axis": null}
    }
  },
  {
    "data": {"values": [{}]},
    "mark": {"type": "text", "text": "Br", "font": "Liberation Sans", "fontSize": 32, "fontWeight": "bold", "color": "#1b2d85", "align": "left", "baseline": "alphabetic"},
    "encoding": {
      "x": {"datum": 1982.59, "type": "quantitative", "scale": {"domain": [1978, 2010], "nice": false, "zero": false}, "axis": null},
      "y": {"datum": 7.53, "type": "quantitative", "scale": {"domain": [6, 30], "nice": false, "zero": false}, "axis": null}
    }
  },
  {
    "data": {"values": [{}]},
    "mark": {"type": "text", "text": "Br", "font": "Liberation Sans", "fontSize": 27, "color": "#2a2a2a", "align": "left", "baseline": "alphabetic"},
    "encoding": {
      "x": {"datum": 1980.58, "type": "quantitative", "scale": {"domain": [1978, 2010], "nice": false, "zero": false}, "axis": null},
      "y": {"datum": 28.54, "type": "quantitative", "scale": {"domain": [6, 30], "nice": false, "zero": false}, "axis": null}
    }
  },
  {
    "data": {"values": [{}]},
    "mark": {"type": "text", "text": "y", "font": "Liberation Sans", "fontSize": 20, "color": "#2a2a2a", "align": "left", "baseline": "alphabetic"},
    "encoding": {
      "x": {"datum": 1981.3, "type": "quantitative", "scale": {"domain": [1978, 2010], "nice": false, "zero": false}, "axis": null},
      "y": {"datum": 28.39, "type": "quantitative", "scale": {"domain": [6, 30], "nice": false, "zero": false}, "axis": null}
    }
  },
  {
    "data": {"values": [{}]},
    "mark": {"type": "text", "text": "from DOAS BrO:", "font": "Liberation Sans", "fontSize": 27, "color": "#2a2a2a", "align": "left", "baseline": "alphabetic"},
    "encoding": {
      "x": {"datum": 1981.68, "type": "quantitative", "scale": {"domain": [1978, 2010], "nice": false, "zero": false}, "axis": null},
      "y": {"datum": 28.54, "type": "quantitative", "scale": {"domain": [6, 30], "nice": false, "zero": false}, "axis": null}
    }
  },
  {
    "data": {"values": [{}]},
    "mark": {"type": "text", "text": "WMO (2010)", "font": "Liberation Sans", "fontSize": 30, "color": "#2a2a2a", "align": "left", "baseline": "top"},
    "encoding": {
      "x": {"datum": 2016.34, "type": "quantitative", "scale": {"domain": [1978, 2010], "nice": false, "zero": false}, "axis": null},
      "y": {"datum": 3.29, "type": "quantitative", "scale": {"domain": [6, 30], "nice": false, "zero": false}, "axis": null}
    }
  }
]
}
